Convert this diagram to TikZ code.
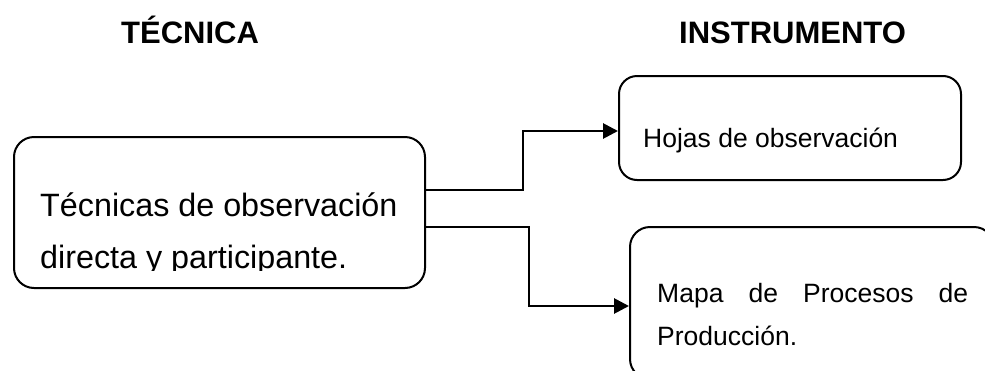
\documentclass[tikz,border=0pt]{standalone}
\usepackage{fontspec}
\setmainfont{Liberation Sans}
\usetikzlibrary{arrows.meta}
\begin{document}
\begin{tikzpicture}[x=1pt,y=-1pt,
  box/.style={draw, line width=2pt, rounded corners=20pt, inner sep=0pt, anchor=north west},
  link/.style={line width=2.8pt, -{Triangle[length=15pt,width=15pt]}},
  txt/.style={inner sep=0pt, anchor=base west},
  head/.style={txt, font=\fontsize{31}{31}\selectfont\bfseries},
  big/.style={txt, font=\fontsize{32.3}{32.3}\selectfont},
  small/.style={txt, font=\fontsize{26.5}{26.5}\selectfont}
]
\useasboundingbox (0,0) rectangle (985,370);
\clip (0,0) rectangle (985,370);

% column headings
\node[head] (hT) at (121,43) {TÉCNICA};
\node[head] (hI) at (679,43) {INSTRUMENTO};

% boxes
\node[box, minimum width=411pt, minimum height=151pt] (L) at (13,136) {};
\node[box, rounded corners=18pt, minimum width=342pt, minimum height=104pt] (H) at (618,75) {};
\node[box, minimum width=364pt, minimum height=152pt] (M) at (629,226) {};

% text of the technique box, cut off at its lower line
\begin{scope}
  \clip (13,136) rectangle (424,270);
  \node[big] (t1) at (40,216) {Técnicas de observación};
  \node[big] (t2) at (40,268) {directa y participante.};
\end{scope}

% text of the instrument boxes
\node[small] (h1) at (643,147) {Hojas de observación};
\node[small] (m1) at (657,302) {\makebox[311pt][s]{Mapa de Procesos de}};
\node[small] (m2) at (657,345) {Producción.};

% connectors
\draw[link] ([yshift=22.5pt]L.east) -- ++(97,0) |- ([yshift=-3pt]H.west);
\draw[link] ([yshift=-14.5pt]L.east) -- ++(103,0) |- ([yshift=-3pt]M.west);
\end{tikzpicture}
\end{document}
